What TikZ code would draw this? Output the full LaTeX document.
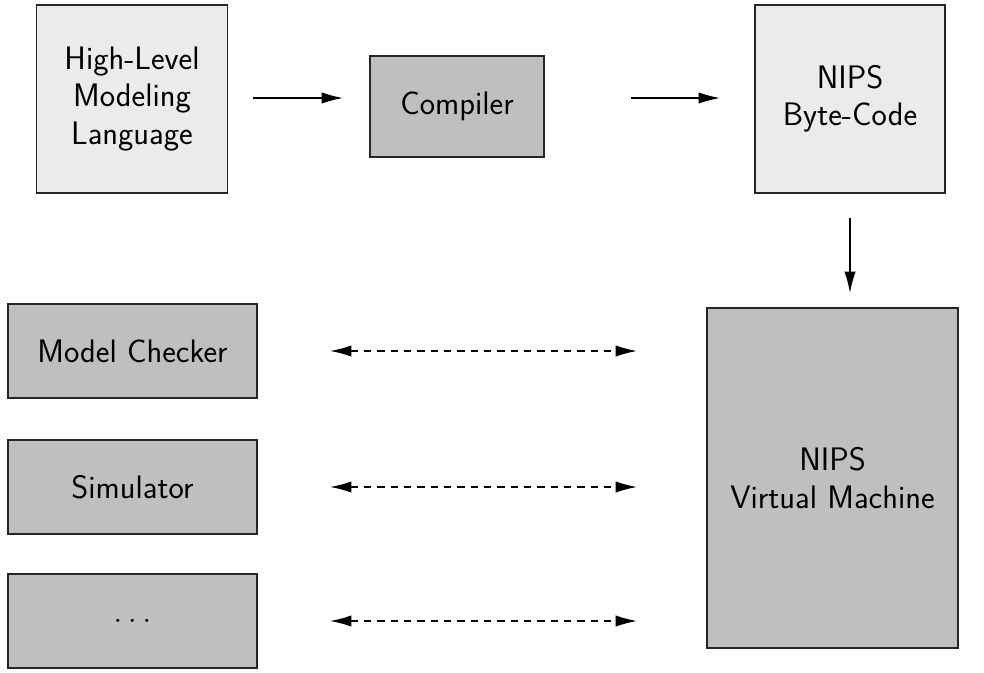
\documentclass[tikz,border=0pt]{standalone}
\usetikzlibrary{arrows.meta}
\begin{document}
\begin{tikzpicture}[x=0.75pt,y=-0.75pt,
  box/.style={draw=black!85, line width=1.1pt, align=center, inner sep=0pt,
    font=\sffamily\fontsize{24.4}{28}\selectfont},
  light/.style={box, fill=black!8},
  dark/.style={box, fill=black!25},
  flow/.style={line width=1.1pt, -{Latex[length=16pt,width=8.5pt]}},
  link/.style={line width=1.1pt, dash pattern=on 5.5pt off 4.5pt,
    {Latex[length=16pt,width=8.5pt]}-{Latex[length=16pt,width=8.5pt]}}]
  \useasboundingbox (0,0) rectangle (984,672);

  % top row: source language, compiler, byte code
  \node[light, minimum width=143pt, minimum height=141pt] (hl) at (132,99)
    {High-Level\\Modeling\\Language};
  \node[dark, minimum width=130.5pt, minimum height=75.75pt] (comp) at (457,106.5)
    {Compiler};
  \node[light, minimum width=142.5pt, minimum height=141pt] (bc) at (850,99)
    {NIPS\\Byte-Code};

  % virtual machine
  \node[dark, minimum width=188pt, minimum height=255pt] (vm) at (832.5,478)
    {NIPS\\Virtual Machine};

  % tools working on the virtual machine
  \node[dark, minimum width=186.75pt, minimum height=70.5pt] (mc) at (132.5,351)
    {Model Checker};
  \node[dark, minimum width=186.75pt, minimum height=70.5pt] (sim) at (132.5,487)
    {Simulator};
  \node[dark, minimum width=186.75pt, minimum height=70.5pt] (etc) at (132.5,621)
    {$\ldots$};

  % pipeline arrows
  \coordinate (a1s) at (253,98);  \coordinate (a1e) at (343,98);
  \coordinate (a2s) at (631,98);  \coordinate (a2e) at (720,98);
  \coordinate (a3s) at (850,218); \coordinate (a3e) at (850,293);
  \draw[flow] (a1s) -- (a1e);
  \draw[flow] (a2s) -- (a2e);
  \draw[flow] (a3s) -- (a3e);

  % two-way links between tools and the virtual machine
  \foreach \n/\y in {mc/351, sim/487, etc/621} {
    \coordinate (\n l) at (330,\y);
    \coordinate (\n r) at (637,\y);
    \draw[link] (\n l) -- (\n r);
  }
\end{tikzpicture}
\end{document}
